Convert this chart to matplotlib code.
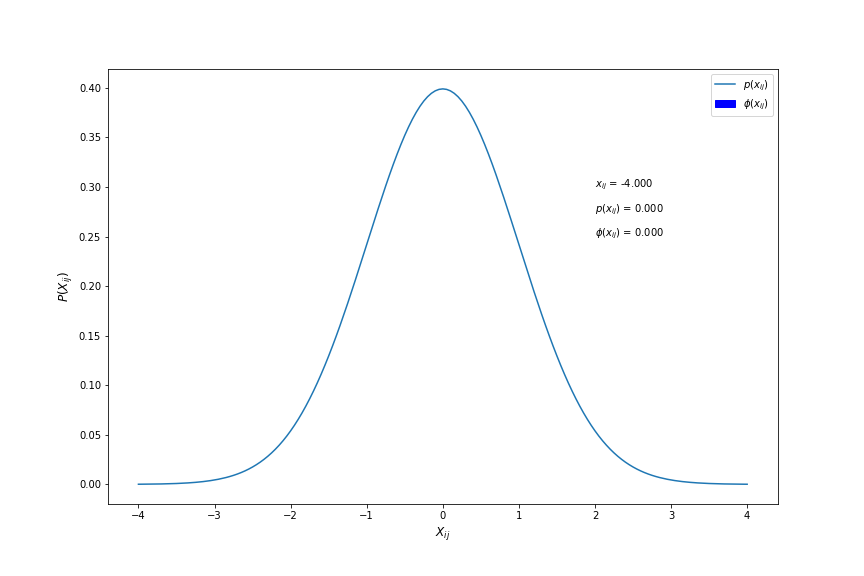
import matplotlib
matplotlib.use("Agg")
import matplotlib.pyplot as plt

# x grid of the curve, step 0.05 from -4 to 4
x_vals = [-4.00, -3.95, -3.90, -3.85, -3.80, -3.75, -3.70, -3.65, -3.60, -3.55,
          -3.50, -3.45, -3.40, -3.35, -3.30, -3.25, -3.20, -3.15, -3.10, -3.05,
          -3.00, -2.95, -2.90, -2.85, -2.80, -2.75, -2.70, -2.65, -2.60, -2.55,
          -2.50, -2.45, -2.40, -2.35, -2.30, -2.25, -2.20, -2.15, -2.10, -2.05,
          -2.00, -1.95, -1.90, -1.85, -1.80, -1.75, -1.70, -1.65, -1.60, -1.55,
          -1.50, -1.45, -1.40, -1.35, -1.30, -1.25, -1.20, -1.15, -1.10, -1.05,
          -1.00, -0.95, -0.90, -0.85, -0.80, -0.75, -0.70, -0.65, -0.60, -0.55,
          -0.50, -0.45, -0.40, -0.35, -0.30, -0.25, -0.20, -0.15, -0.10, -0.05,
          0.00,
          0.05, 0.10, 0.15, 0.20, 0.25, 0.30, 0.35, 0.40, 0.45, 0.50,
          0.55, 0.60, 0.65, 0.70, 0.75, 0.80, 0.85, 0.90, 0.95, 1.00,
          1.05, 1.10, 1.15, 1.20, 1.25, 1.30, 1.35, 1.40, 1.45, 1.50,
          1.55, 1.60, 1.65, 1.70, 1.75, 1.80, 1.85, 1.90, 1.95, 2.00,
          2.05, 2.10, 2.15, 2.20, 2.25, 2.30, 2.35, 2.40, 2.45, 2.50,
          2.55, 2.60, 2.65, 2.70, 2.75, 2.80, 2.85, 2.90, 2.95, 3.00,
          3.05, 3.10, 3.15, 3.20, 3.25, 3.30, 3.35, 3.40, 3.45, 3.50,
          3.55, 3.60, 3.65, 3.70, 3.75, 3.80, 3.85, 3.90, 3.95, 4.00]

# density values
p_vals = [0.00013, 0.00016, 0.00020, 0.00024, 0.00029, 0.00035, 0.00042, 0.00051, 0.00061, 0.00073,
          0.00087, 0.00104, 0.00123, 0.00146, 0.00172, 0.00203, 0.00238, 0.00279, 0.00327, 0.00381,
          0.00443, 0.00514, 0.00595, 0.00687, 0.00792, 0.00909, 0.01042, 0.01191, 0.01358, 0.01545,
          0.01753, 0.01984, 0.02239, 0.02522, 0.02833, 0.03174, 0.03547, 0.03955, 0.04398, 0.04879,
          0.05399, 0.05959, 0.06562, 0.07206, 0.07895, 0.08628, 0.09405, 0.10226, 0.11092, 0.12001,
          0.12952, 0.13943, 0.14973, 0.16038, 0.17137, 0.18265, 0.19419, 0.20594, 0.21785, 0.22988,
          0.24197, 0.25406, 0.26609, 0.27798, 0.28969, 0.30114, 0.31225, 0.32297, 0.33322, 0.34294,
          0.35207, 0.36053, 0.36827, 0.37524, 0.38139, 0.38667, 0.39104, 0.39448, 0.39695, 0.39844,
          0.39894,
          0.39844, 0.39695, 0.39448, 0.39104, 0.38667, 0.38139, 0.37524, 0.36827, 0.36053, 0.35207,
          0.34294, 0.33322, 0.32297, 0.31225, 0.30114, 0.28969, 0.27798, 0.26609, 0.25406, 0.24197,
          0.22988, 0.21785, 0.20594, 0.19419, 0.18265, 0.17137, 0.16038, 0.14973, 0.13943, 0.12952,
          0.12001, 0.11092, 0.10226, 0.09405, 0.08628, 0.07895, 0.07206, 0.06562, 0.05959, 0.05399,
          0.04879, 0.04398, 0.03955, 0.03547, 0.03174, 0.02833, 0.02522, 0.02239, 0.01984, 0.01753,
          0.01545, 0.01358, 0.01191, 0.01042, 0.00909, 0.00792, 0.00687, 0.00595, 0.00514, 0.00443,
          0.00381, 0.00327, 0.00279, 0.00238, 0.00203, 0.00172, 0.00146, 0.00123, 0.00104, 0.00087,
          0.00073, 0.00061, 0.00051, 0.00042, 0.00035, 0.00029, 0.00024, 0.00020, 0.00016, 0.00013]

x_cur = -4.000
p_cur = 0.000
phi_cur = 0.000

fig, ax = plt.subplots(figsize=(12, 8), dpi=72)
fig.subplots_adjust(left=0.125, right=0.9, top=0.88, bottom=0.125)
ax.plot(x_vals, p_vals, label=r"$p(x_{ij})$")
ax.fill_between([], [], color="blue", label=r"$\phi(x_{ij})$")

ax.text(2, 0.300, r"$x_{ij}$ = %.3f" % x_cur)
ax.text(2, 0.275, r"$p(x_{ij})$ = %.3f" % p_cur)
ax.text(2, 0.250, r"$\phi(x_{ij})$ = %.3f" % phi_cur)

ax.set_xlabel(r"$X_{ij}$", fontsize=12)
ax.set_ylabel(r"$P(X_{ij})$", fontsize=12)
ax.legend(loc="upper right")

plt.savefig("out.png")
